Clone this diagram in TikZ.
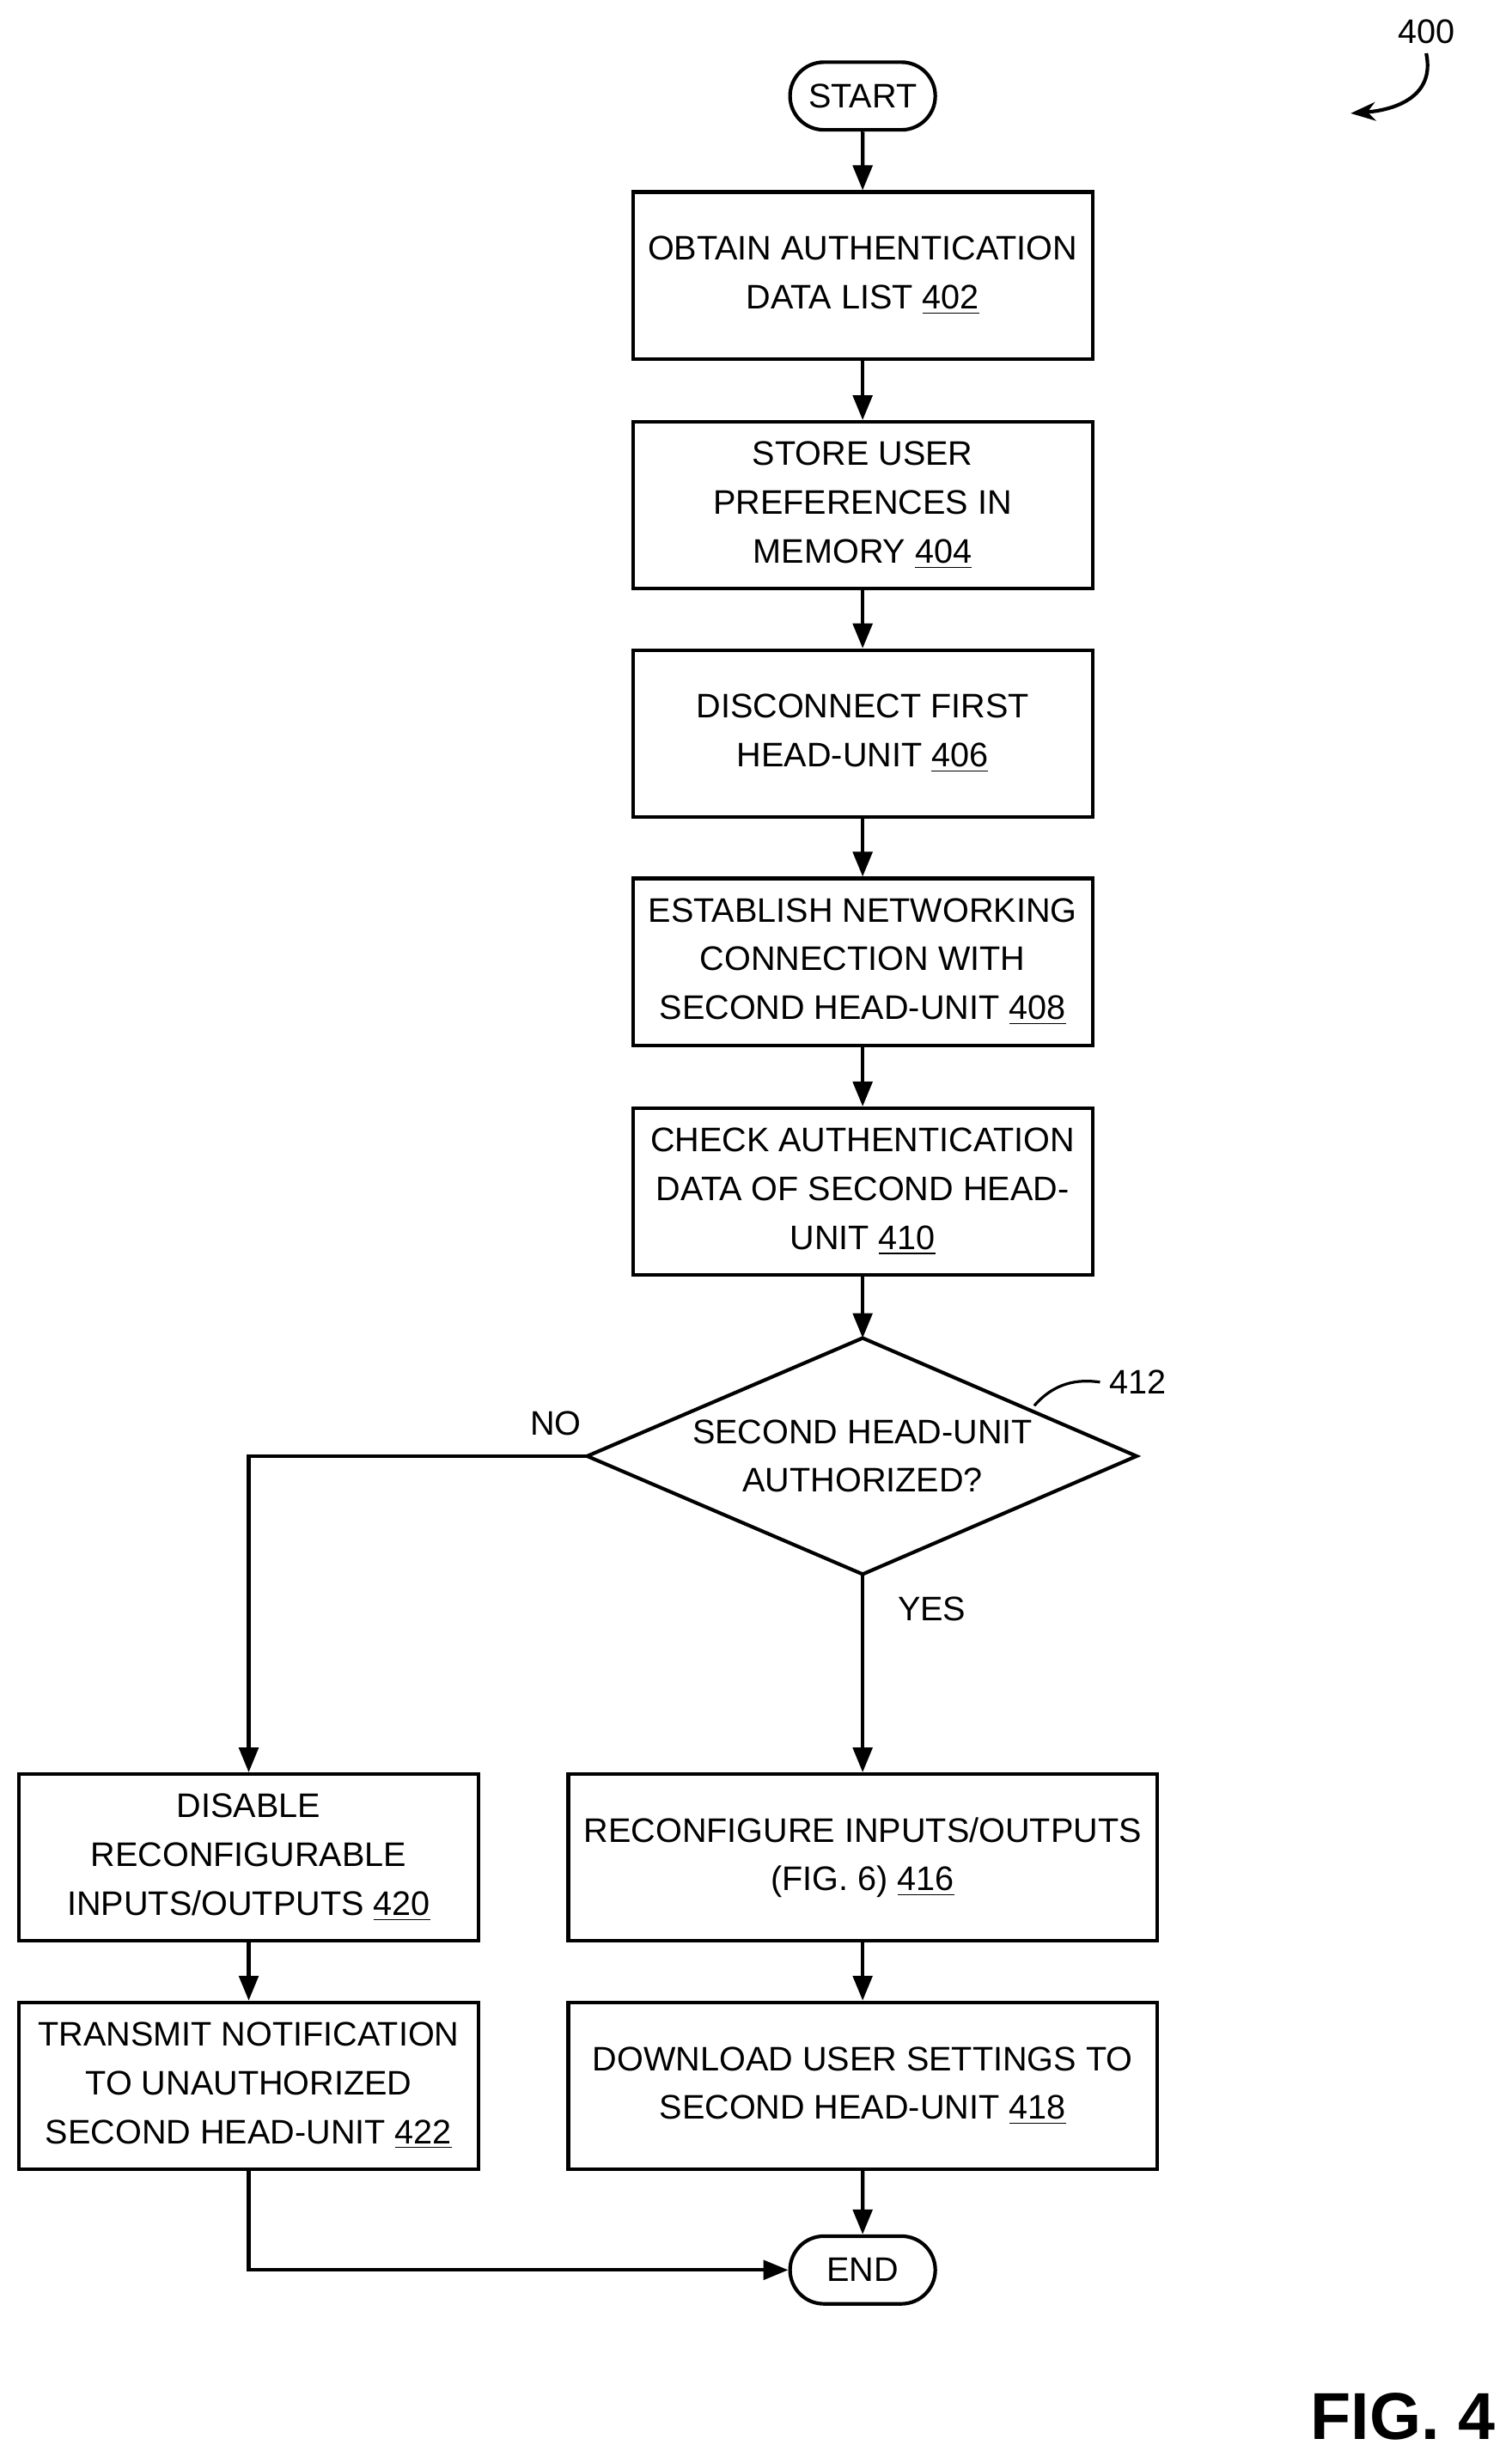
\documentclass[tikz,border=0pt]{standalone}
\usepackage{fontspec}
\setmainfont{Liberation Sans}
\usetikzlibrary{shapes.geometric,shapes.misc,arrows.meta}
\begin{document}
\begin{tikzpicture}[x=0.02cm,y=-0.02cm,
  every node/.style={font=\fontsize{12.3}{17.6}\selectfont},
  box/.style={draw,line width=1.3pt,minimum width=5.84cm,minimum height=2.12cm,align=center,inner sep=1pt},
  wbox/.style={box,minimum width=7.48cm},
  term/.style={draw,line width=1.3pt,rounded rectangle,minimum width=2.08cm,minimum height=0.86cm},
  arr/.style={-{Triangle[length=9pt,width=7pt]},line width=1.3pt}]
\useasboundingbox (0,0) rectangle (960,1557);
\node[term] (start) at (548,61) {START};
\node[box] (b402) at (548,175) {OBTAIN AUTHENTICATION\\DATA LIST \underline{402}};
\node[box] (b404) at (548,321) {STORE USER\\PREFERENCES IN\\MEMORY \underline{404}};
\node[box] (b406) at (548,466) {DISCONNECT FIRST\\HEAD-UNIT \underline{406}};
\node[box] (b408) at (548,611) {ESTABLISH NETWORKING\\CONNECTION WITH\\SECOND HEAD-UNIT \underline{408}};
\node[box] (b410) at (548,757) {CHECK AUTHENTICATION\\DATA OF SECOND HEAD-\\UNIT \underline{410}};
\draw[line width=1.3pt] (373,925) -- (548,850) -- (722,925) -- (548,1000) -- cycle;
\coordinate (dL) at (373,925); \coordinate (dT) at (548,850); \coordinate (dB) at (548,1000);
\node[align=center] (d412) at (548,925) {SECOND HEAD-UNIT\\AUTHORIZED?};
\node[box] (b420) at (158,1180) {DISABLE\\RECONFIGURABLE\\INPUTS/OUTPUTS \underline{420}};
\node[box] (b422) at (158,1325) {TRANSMIT NOTIFICATION\\TO UNAUTHORIZED\\SECOND HEAD-UNIT \underline{422}};
\node[wbox] (b416) at (548,1180) {RECONFIGURE INPUTS/OUTPUTS\\(FIG. 6) \underline{416}};
\node[wbox] (b418) at (548,1325) {DOWNLOAD USER SETTINGS TO\\SECOND HEAD-UNIT \underline{418}};
\node[term] (end) at (548,1442) {END};
\draw[arr] (start) -- (b402);
\draw[arr] (b402) -- (b404);
\draw[arr] (b404) -- (b406);
\draw[arr] (b406) -- (b408);
\draw[arr] (b408) -- (b410);
\draw[arr] (b410) -- (dT);
\draw[arr] (dL) -| (b420);
\draw[arr] (dB) -- (b416);
\draw[arr] (b420) -- (b422);
\draw[arr] (b416) -- (b418);
\draw[arr] (b418) -- (end);
\draw[arr] (b422) |- (end);
\node (no) at (353,904) {NO};
\node (yes) at (592,1022) {YES};
\node (l412) at (723,878) {412};
\draw[line width=1pt] (657,893) .. controls (670,878) and (685,876) .. (l412.west);
\node (l400) at (906,20) {400};
\coordinate (a400) at (858,72);
\draw[line width=1.3pt,-{Stealth[length=9pt]}] (l400.south) .. controls (912,62) and (885,70) .. (a400);
\node[font=\fontsize{24}{28}\selectfont\bfseries,anchor=east] (fig) at (956,1535) {FIG. 4};
\end{tikzpicture}
\end{document}
